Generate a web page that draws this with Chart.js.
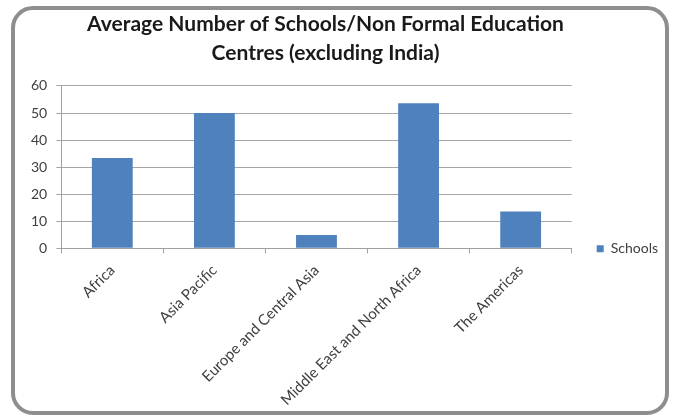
<!DOCTYPE html>
<html>
<head>
<meta charset="utf-8">
<script src="https://cdn.jsdelivr.net/npm/chart.js@4/dist/chart.umd.min.js"></script>
<style>
  body { margin: 0; background: #fff; }
  #frame {
    position: absolute; left: 11px; top: 6px; width: 650px; height: 401px;
    border: 4px solid #8e8e90; border-radius: 22px;
  }
  #wrap { position: absolute; left: 0; top: 0; width: 676px; height: 417px; }
</style>
</head>
<body>
<div id="frame"></div>
<div id="wrap"><canvas id="chart"></canvas></div>
<script>
// 지역 / 값
const regions = ['Africa', 'Asia Pacific', 'Europe and Central Asia', 'Middle East and North Africa', 'The Americas'];
const schools = [33.4, 50, 4.9, 53.6, 13.6];
const titleLines = ['Average Number of Schools/Non Formal Education', 'Centres (excluding India)'];

// 제목을 살짝 오른쪽으로 이동
const titleShift = {
  id: 'titleShift',
  afterLayout(chart) {
    if (chart.titleBlock) {
      chart.titleBlock.left += 9;
      chart.titleBlock.right += 9;
    }
  }
};

const ctx = document.getElementById('chart').getContext('2d');
new Chart(ctx, {
  type: 'bar',
  data: {
    labels: regions,
    datasets: [{
      label: 'Schools',
      data: schools,
      backgroundColor: '#4f81bd',
      borderWidth: 0,
      categoryPercentage: 1,
      barPercentage: 0.4
    }]
  },
  options: {
    responsive: true,
    maintainAspectRatio: false,
    animation: false,
    layout: { padding: { left: 22, right: 8, top: 0, bottom: 0 } },
    plugins: {
      title: {
        display: true,
        fullSize: false,
        text: titleLines,
        color: '#1a1a1a',
        font: { family: 'Lato', size: 21, weight: 'bold', lineHeight: 1.38 },
        padding: { top: 10, bottom: 18 }
      },
      legend: {
        position: 'right',
        title: {
          display: true,
          text: ' ',
          padding: { top: 0, bottom: 66 }
        },
        labels: {
          boxWidth: 7,
          boxHeight: 7,
          color: '#404040',
          font: { family: 'Lato', size: 14 },
          padding: 25
        }
      },
      tooltip: { enabled: false }
    },
    scales: {
      x: {
        grid: { display: true, drawOnChartArea: false, color: '#a0a0a0', tickLength: 5, offset: true },
        border: { color: '#a0a0a0' },
        ticks: {
          color: '#404040',
          font: { family: 'Lato', size: 15 },
          minRotation: 45,
          maxRotation: 45,
          padding: 8
        }
      },
      y: {
        min: 0,
        max: 60,
        grid: { color: '#a6a6a6', tickLength: 5 },
        border: { color: '#a0a0a0' },
        ticks: {
          stepSize: 10,
          color: '#404040',
          font: { family: 'Lato', size: 14 },
          padding: 9
        }
      }
    }
  },
  plugins: [titleShift]
});
</script>
</body>
</html>
